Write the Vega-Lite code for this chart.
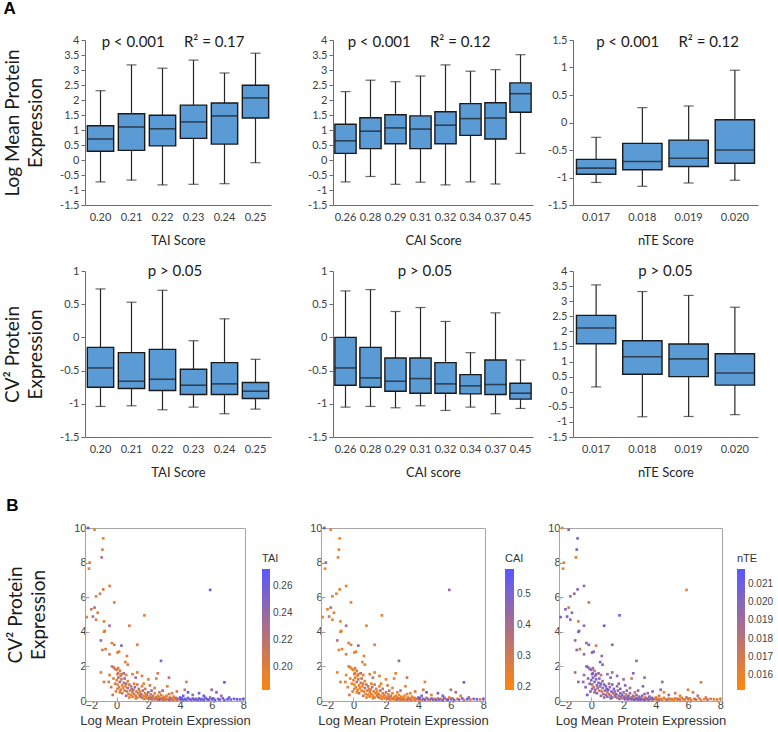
{
  "$schema": "https://vega.github.io/schema/vega-lite/v6.json",
  "background": "white",
  "padding": {"left": 3, "top": 0, "right": 1, "bottom": 2},
  "columns": 1,
  "align": "none",
  "spacing": 17,
  "resolve": {"scale": {"color": "independent"}, "legend": {"color": "independent"}},
  "config": {
    "font": "Lato",
    "view": {"stroke": null},
    "axis": {"grid": false, "labelFont": "Lato", "titleFont": "Lato", "labelColor": "#404040", "titleColor": "#262626", "domainColor": "#6b6b6b", "tickColor": "#6b6b6b", "labelFontSize": 11, "titleFontWeight": "normal", "labelOverlap": false},
    "title": {"font": "Lato", "fontWeight": "normal", "color": "#1a1a1a"}
  },
  "datasets": {
    "box": [
      {"p": "t1", "cat": "0.20", "lo": -0.73, "q1": 0.29, "med": 0.70, "q3": 1.14, "hi": 2.31},
      {"p": "t1", "cat": "0.21", "lo": -0.67, "q1": 0.32, "med": 1.10, "q3": 1.54, "hi": 3.17},
      {"p": "t1", "cat": "0.22", "lo": -0.83, "q1": 0.47, "med": 1.04, "q3": 1.49, "hi": 3.06},
      {"p": "t1", "cat": "0.23", "lo": -0.81, "q1": 0.72, "med": 1.27, "q3": 1.83, "hi": 3.33},
      {"p": "t1", "cat": "0.24", "lo": -0.79, "q1": 0.53, "med": 1.47, "q3": 1.90, "hi": 2.90},
      {"p": "t1", "cat": "0.25", "lo": -0.09, "q1": 1.40, "med": 2.07, "q3": 2.49, "hi": 3.56},
      {"p": "c1", "cat": "0.26", "lo": -0.73, "q1": 0.22, "med": 0.64, "q3": 1.19, "hi": 2.28},
      {"p": "c1", "cat": "0.28", "lo": -0.55, "q1": 0.38, "med": 0.96, "q3": 1.41, "hi": 2.66},
      {"p": "c1", "cat": "0.29", "lo": -0.81, "q1": 0.54, "med": 1.07, "q3": 1.51, "hi": 2.61},
      {"p": "c1", "cat": "0.31", "lo": -0.74, "q1": 0.38, "med": 1.03, "q3": 1.47, "hi": 2.80},
      {"p": "c1", "cat": "0.32", "lo": -0.83, "q1": 0.54, "med": 1.16, "q3": 1.61, "hi": 3.17},
      {"p": "c1", "cat": "0.34", "lo": -0.73, "q1": 0.82, "med": 1.38, "q3": 1.88, "hi": 2.96},
      {"p": "c1", "cat": "0.37", "lo": -0.80, "q1": 0.70, "med": 1.40, "q3": 1.91, "hi": 3.01},
      {"p": "c1", "cat": "0.45", "lo": 0.22, "q1": 1.59, "med": 2.21, "q3": 2.57, "hi": 3.51},
      {"p": "n1", "cat": "0.017", "lo": -1.09, "q1": -0.94, "med": -0.83, "q3": -0.67, "hi": -0.27},
      {"p": "n1", "cat": "0.018", "lo": -1.16, "q1": -0.86, "med": -0.71, "q3": -0.38, "hi": 0.27},
      {"p": "n1", "cat": "0.019", "lo": -1.10, "q1": -0.80, "med": -0.65, "q3": -0.32, "hi": 0.30},
      {"p": "n1", "cat": "0.020", "lo": -1.05, "q1": -0.74, "med": -0.50, "q3": 0.05, "hi": 0.95},
      {"p": "t2", "cat": "0.20", "lo": -1.04, "q1": -0.75, "med": -0.46, "q3": -0.15, "hi": 0.73},
      {"p": "t2", "cat": "0.21", "lo": -1.03, "q1": -0.77, "med": -0.66, "q3": -0.23, "hi": 0.53},
      {"p": "t2", "cat": "0.22", "lo": -1.09, "q1": -0.80, "med": -0.63, "q3": -0.18, "hi": 0.71},
      {"p": "t2", "cat": "0.23", "lo": -1.05, "q1": -0.86, "med": -0.72, "q3": -0.48, "hi": -0.05},
      {"p": "t2", "cat": "0.24", "lo": -1.15, "q1": -0.86, "med": -0.70, "q3": -0.38, "hi": 0.28},
      {"p": "t2", "cat": "0.25", "lo": -1.08, "q1": -0.92, "med": -0.81, "q3": -0.68, "hi": -0.33},
      {"p": "c2", "cat": "0.26", "lo": -1.05, "q1": -0.72, "med": -0.46, "q3": 0.0, "hi": 0.70},
      {"p": "c2", "cat": "0.28", "lo": -1.04, "q1": -0.75, "med": -0.61, "q3": -0.15, "hi": 0.72},
      {"p": "c2", "cat": "0.29", "lo": -1.06, "q1": -0.81, "med": -0.66, "q3": -0.31, "hi": 0.39},
      {"p": "c2", "cat": "0.31", "lo": -1.03, "q1": -0.84, "med": -0.62, "q3": -0.31, "hi": 0.45},
      {"p": "c2", "cat": "0.32", "lo": -1.10, "q1": -0.84, "med": -0.70, "q3": -0.38, "hi": 0.24},
      {"p": "c2", "cat": "0.34", "lo": -1.05, "q1": -0.85, "med": -0.73, "q3": -0.56, "hi": -0.23},
      {"p": "c2", "cat": "0.37", "lo": -1.15, "q1": -0.86, "med": -0.71, "q3": -0.34, "hi": 0.37},
      {"p": "c2", "cat": "0.45", "lo": -1.07, "q1": -0.93, "med": -0.84, "q3": -0.69, "hi": -0.34},
      {"p": "n2", "cat": "0.017", "lo": 0.16, "q1": 1.59, "med": 2.11, "q3": 2.53, "hi": 3.54},
      {"p": "n2", "cat": "0.018", "lo": -0.83, "q1": 0.58, "med": 1.16, "q3": 1.69, "hi": 3.32},
      {"p": "n2", "cat": "0.019", "lo": -0.82, "q1": 0.50, "med": 1.09, "q3": 1.58, "hi": 3.19},
      {"p": "n2", "cat": "0.020", "lo": -0.76, "q1": 0.22, "med": 0.62, "q3": 1.26, "hi": 2.80}
    ],
    "pts": [
      {"x": -1.8, "y": 10, "t": 0.27, "c": 0.56, "n": 0.0155},
      {"x": -1.4, "y": 9.9, "t": 0.195, "c": 0.22, "n": 0.0196},
      {"x": -0.85, "y": 9.4, "t": 0.19, "c": 0.21, "n": 0.0203},
      {"x": -0.9, "y": 8.75, "t": 0.2, "c": 0.23, "n": 0.0206},
      {"x": -0.95, "y": 8.3, "t": 0.225, "c": 0.25, "n": 0.0166},
      {"x": -1.7, "y": 8.0, "t": 0.2, "c": 0.42, "n": 0.0162},
      {"x": -1.75, "y": 7.65, "t": 0.195, "c": 0.21, "n": 0.016},
      {"x": -0.45, "y": 6.65, "t": 0.2, "c": 0.24, "n": 0.0195},
      {"x": -0.85, "y": 6.45, "t": 0.205, "c": 0.26, "n": 0.02},
      {"x": -1.05, "y": 6.2, "t": 0.21, "c": 0.25, "n": 0.0192},
      {"x": -1.3, "y": 6.05, "t": 0.2, "c": 0.24, "n": 0.0188},
      {"x": -0.15, "y": 5.7, "t": 0.2, "c": 0.23, "n": 0.0175},
      {"x": -1.4, "y": 5.4, "t": 0.235, "c": 0.4, "n": 0.0165},
      {"x": -1.2, "y": 5.1, "t": 0.2, "c": 0.22, "n": 0.0195},
      {"x": -1.5, "y": 4.88, "t": 0.23, "c": 0.3, "n": 0.0207},
      {"x": -1.3, "y": 4.7, "t": 0.205, "c": 0.24, "n": 0.0195},
      {"x": -0.45, "y": 4.35, "t": 0.235, "c": 0.42, "n": 0.0195},
      {"x": -0.8, "y": 4.6, "t": 0.2, "c": 0.23, "n": 0.0168},
      {"x": -0.75, "y": 4.05, "t": 0.195, "c": 0.22, "n": 0.0192},
      {"x": -0.8, "y": 4.0, "t": 0.2, "c": 0.25, "n": 0.02},
      {"x": -1.0, "y": 3.5, "t": 0.24, "c": 0.38, "n": 0.0195},
      {"x": -0.9, "y": 2.95, "t": 0.2, "c": 0.23, "n": 0.0198},
      {"x": -0.7, "y": 3.0, "t": 0.205, "c": 0.24, "n": 0.0175},
      {"x": -0.3, "y": 3.35, "t": 0.2, "c": 0.25, "n": 0.0195},
      {"x": -0.15, "y": 3.25, "t": 0.21, "c": 0.26, "n": 0.0205},
      {"x": 0.3, "y": 3.2, "t": 0.25, "c": 0.45, "n": 0.0166},
      {"x": 0.15, "y": 2.85, "t": 0.2, "c": 0.24, "n": 0.0195},
      {"x": 0.05, "y": 2.8, "t": 0.2, "c": 0.22, "n": 0.0198},
      {"x": -0.45, "y": 2.7, "t": 0.205, "c": 0.26, "n": 0.019},
      {"x": 0.65, "y": 2.6, "t": 0.2, "c": 0.24, "n": 0.0195},
      {"x": 0.8, "y": 4.35, "t": 0.2, "c": 0.23, "n": 0.0212},
      {"x": 1.75, "y": 4.95, "t": 0.2, "c": 0.25, "n": 0.0212},
      {"x": 1.3, "y": 3.25, "t": 0.2, "c": 0.26, "n": 0.0195},
      {"x": 2.8, "y": 2.32, "t": 0.25, "c": 0.45, "n": 0.0195},
      {"x": 5.9, "y": 6.42, "t": 0.265, "c": 0.44, "n": 0.016},
      {"x": 6.8, "y": 1.08, "t": 0.27, "c": 0.55, "n": 0.0162},
      {"x": -1.9, "y": 4.85, "t": 0.2, "c": 0.22, "n": 0.0207},
      {"x": -1.6, "y": 5.3, "t": 0.21, "c": 0.24, "n": 0.02},
      {"x": -1.0, "y": 1.65, "t": 0.2, "c": 0.23, "n": 0.019},
      {"x": -0.8, "y": 1.1, "t": 0.205, "c": 0.24, "n": 0.0195},
      {"x": -0.3, "y": 2.0, "t": 0.2, "c": 0.23, "n": 0.0195},
      {"x": -0.2, "y": 1.95, "t": 0.21, "c": 0.25, "n": 0.02},
      {"x": -0.1, "y": 1.85, "t": 0.225, "c": 0.24, "n": 0.019},
      {"x": 0.0, "y": 1.8, "t": 0.2, "c": 0.22, "n": 0.0198},
      {"x": 0.1, "y": 1.9, "t": 0.195, "c": 0.26, "n": 0.0192},
      {"x": 0.2, "y": 1.75, "t": 0.2, "c": 0.25, "n": 0.0172},
      {"x": 0.1, "y": 1.6, "t": 0.22, "c": 0.3, "n": 0.0195},
      {"x": 0.05, "y": 1.55, "t": 0.2, "c": 0.24, "n": 0.0205},
      {"x": 0.3, "y": 1.55, "t": 0.21, "c": 0.26, "n": 0.0198},
      {"x": 0.25, "y": 1.45, "t": 0.2, "c": 0.22, "n": 0.019},
      {"x": 0.45, "y": 1.6, "t": 0.23, "c": 0.35, "n": 0.0197},
      {"x": 0.6, "y": 1.5, "t": 0.2, "c": 0.27, "n": 0.0178},
      {"x": 0.7, "y": 2.1, "t": 0.205, "c": 0.24, "n": 0.0198},
      {"x": 0.55, "y": 2.25, "t": 0.2, "c": 0.23, "n": 0.0203},
      {"x": 1.0, "y": 1.55, "t": 0.2, "c": 0.25, "n": 0.0195},
      {"x": 1.2, "y": 1.35, "t": 0.235, "c": 0.36, "n": 0.0199},
      {"x": 1.3, "y": 1.65, "t": 0.2, "c": 0.24, "n": 0.0188},
      {"x": 1.6, "y": 1.45, "t": 0.205, "c": 0.26, "n": 0.0196},
      {"x": 2.0, "y": 1.25, "t": 0.2, "c": 0.24, "n": 0.0195},
      {"x": 2.5, "y": 1.3, "t": 0.2, "c": 0.23, "n": 0.0172},
      {"x": 2.6, "y": 1.6, "t": 0.21, "c": 0.25, "n": 0.02},
      {"x": 3.3, "y": 1.35, "t": 0.22, "c": 0.32, "n": 0.0195},
      {"x": 3.2, "y": 0.85, "t": 0.2, "c": 0.26, "n": 0.0199},
      {"x": 4.4, "y": 1.1, "t": 0.2, "c": 0.24, "n": 0.0195},
      {"x": 4.3, "y": 0.65, "t": 0.215, "c": 0.3, "n": 0.0197},
      {"x": 6.0, "y": 0.65, "t": 0.24, "c": 0.35, "n": 0.0165},
      {"x": 6.3, "y": 0.5, "t": 0.25, "c": 0.4, "n": 0.0168},
      {"x": 5.2, "y": 0.45, "t": 0.26, "c": 0.48, "n": 0.0175},
      {"x": -0.45, "y": 1.5, "t": 0.2, "c": 0.23, "n": 0.0196},
      {"x": -0.5, "y": 1.1, "t": 0.205, "c": 0.25, "n": 0.0199},
      {"x": -0.2, "y": 1.3, "t": 0.2, "c": 0.24, "n": 0.0195},
      {"x": -0.35, "y": 0.8, "t": 0.21, "c": 0.26, "n": 0.02},
      {"x": -0.1, "y": 1.0, "t": 0.2, "c": 0.22, "n": 0.0193},
      {"x": -0.05, "y": 0.55, "t": 0.2, "c": 0.25, "n": 0.0203},
      {"x": -0.25, "y": 0.35, "t": 0.22, "c": 0.3, "n": 0.0212},
      {"x": 0.0, "y": 1.2, "t": 0.2, "c": 0.24, "n": 0.0198},
      {"x": 0.05, "y": 0.95, "t": 0.195, "c": 0.22, "n": 0.0192},
      {"x": 0.1, "y": 1.35, "t": 0.225, "c": 0.28, "n": 0.0205},
      {"x": 0.15, "y": 0.8, "t": 0.205, "c": 0.25, "n": 0.017},
      {"x": 0.2, "y": 1.1, "t": 0.24, "c": 0.36, "n": 0.0195},
      {"x": 0.25, "y": 0.65, "t": 0.2, "c": 0.23, "n": 0.0188},
      {"x": 0.3, "y": 1.25, "t": 0.21, "c": 0.3, "n": 0.0202},
      {"x": 0.35, "y": 0.9, "t": 0.2, "c": 0.24, "n": 0.0198},
      {"x": 0.4, "y": 0.75, "t": 0.195, "c": 0.22, "n": 0.0192},
      {"x": 0.45, "y": 1.05, "t": 0.225, "c": 0.28, "n": 0.0205},
      {"x": 0.5, "y": 0.6, "t": 0.205, "c": 0.25, "n": 0.017},
      {"x": 0.5, "y": 1.3, "t": 0.24, "c": 0.36, "n": 0.0195},
      {"x": 0.2, "y": 0.5, "t": 0.2, "c": 0.23, "n": 0.0188},
      {"x": 0.35, "y": 0.45, "t": 0.21, "c": 0.3, "n": 0.0202},
      {"x": 0.05, "y": 0.7, "t": 0.2, "c": 0.24, "n": 0.0198},
      {"x": 0.55, "y": 0.85, "t": 0.195, "c": 0.22, "n": 0.0192},
      {"x": 0.6, "y": 1.0, "t": 0.225, "c": 0.28, "n": 0.0205},
      {"x": 0.65, "y": 0.55, "t": 0.205, "c": 0.25, "n": 0.017},
      {"x": 0.7, "y": 0.75, "t": 0.24, "c": 0.36, "n": 0.0195},
      {"x": 0.75, "y": 0.4, "t": 0.2, "c": 0.23, "n": 0.0188},
      {"x": 0.8, "y": 0.95, "t": 0.21, "c": 0.3, "n": 0.0202},
      {"x": 0.85, "y": 0.6, "t": 0.2, "c": 0.24, "n": 0.0198},
      {"x": 0.9, "y": 0.35, "t": 0.195, "c": 0.22, "n": 0.0192},
      {"x": 0.95, "y": 0.7, "t": 0.225, "c": 0.28, "n": 0.0205},
      {"x": 1.0, "y": 0.5, "t": 0.205, "c": 0.25, "n": 0.017},
      {"x": 0.6, "y": 0.3, "t": 0.24, "c": 0.36, "n": 0.0195},
      {"x": 0.7, "y": 1.15, "t": 0.2, "c": 0.23, "n": 0.0188},
      {"x": 0.9, "y": 0.85, "t": 0.21, "c": 0.3, "n": 0.0202},
      {"x": 1.0, "y": 0.25, "t": 0.2, "c": 0.24, "n": 0.0198},
      {"x": 0.8, "y": 0.2, "t": 0.195, "c": 0.22, "n": 0.0192},
      {"x": 1.05, "y": 0.65, "t": 0.225, "c": 0.28, "n": 0.0205},
      {"x": 1.1, "y": 0.4, "t": 0.205, "c": 0.25, "n": 0.017},
      {"x": 1.15, "y": 0.8, "t": 0.24, "c": 0.36, "n": 0.0195},
      {"x": 1.2, "y": 0.3, "t": 0.2, "c": 0.23, "n": 0.0188},
      {"x": 1.25, "y": 0.55, "t": 0.21, "c": 0.3, "n": 0.0202},
      {"x": 1.3, "y": 0.2, "t": 0.2, "c": 0.24, "n": 0.0198},
      {"x": 1.35, "y": 0.45, "t": 0.195, "c": 0.22, "n": 0.0192},
      {"x": 1.4, "y": 0.7, "t": 0.225, "c": 0.28, "n": 0.0205},
      {"x": 1.45, "y": 0.35, "t": 0.205, "c": 0.25, "n": 0.017},
      {"x": 1.5, "y": 0.25, "t": 0.24, "c": 0.36, "n": 0.0195},
      {"x": 1.1, "y": 1.0, "t": 0.2, "c": 0.23, "n": 0.0188},
      {"x": 1.3, "y": 0.95, "t": 0.21, "c": 0.3, "n": 0.0202},
      {"x": 1.2, "y": 0.15, "t": 0.2, "c": 0.24, "n": 0.0198},
      {"x": 1.45, "y": 0.55, "t": 0.195, "c": 0.22, "n": 0.0192},
      {"x": 1.55, "y": 0.4, "t": 0.225, "c": 0.28, "n": 0.0205},
      {"x": 1.6, "y": 0.18, "t": 0.205, "c": 0.25, "n": 0.017},
      {"x": 1.65, "y": 0.6, "t": 0.24, "c": 0.36, "n": 0.0195},
      {"x": 1.7, "y": 0.3, "t": 0.2, "c": 0.23, "n": 0.0188},
      {"x": 1.75, "y": 0.12, "t": 0.21, "c": 0.3, "n": 0.0202},
      {"x": 1.8, "y": 0.45, "t": 0.2, "c": 0.24, "n": 0.0198},
      {"x": 1.85, "y": 0.22, "t": 0.195, "c": 0.22, "n": 0.0192},
      {"x": 1.9, "y": 0.35, "t": 0.225, "c": 0.28, "n": 0.0205},
      {"x": 1.95, "y": 0.15, "t": 0.205, "c": 0.25, "n": 0.017},
      {"x": 2.0, "y": 0.5, "t": 0.24, "c": 0.36, "n": 0.0195},
      {"x": 1.6, "y": 0.85, "t": 0.2, "c": 0.23, "n": 0.0188},
      {"x": 1.8, "y": 0.7, "t": 0.21, "c": 0.3, "n": 0.0202},
      {"x": 1.7, "y": 1.0, "t": 0.2, "c": 0.24, "n": 0.0198},
      {"x": 2.05, "y": 0.25, "t": 0.195, "c": 0.22, "n": 0.0192},
      {"x": 2.1, "y": 0.12, "t": 0.225, "c": 0.28, "n": 0.0205},
      {"x": 2.15, "y": 0.38, "t": 0.205, "c": 0.25, "n": 0.017},
      {"x": 2.2, "y": 0.2, "t": 0.24, "c": 0.36, "n": 0.0195},
      {"x": 2.25, "y": 0.08, "t": 0.2, "c": 0.23, "n": 0.0188},
      {"x": 2.3, "y": 0.3, "t": 0.21, "c": 0.3, "n": 0.0202},
      {"x": 2.35, "y": 0.15, "t": 0.2, "c": 0.24, "n": 0.0198},
      {"x": 2.4, "y": 0.45, "t": 0.195, "c": 0.22, "n": 0.0192},
      {"x": 2.45, "y": 0.1, "t": 0.225, "c": 0.28, "n": 0.0205},
      {"x": 2.5, "y": 0.22, "t": 0.205, "c": 0.25, "n": 0.017},
      {"x": 2.2, "y": 0.6, "t": 0.24, "c": 0.36, "n": 0.0195},
      {"x": 2.4, "y": 0.75, "t": 0.2, "c": 0.23, "n": 0.0188},
      {"x": 2.1, "y": 0.9, "t": 0.21, "c": 0.3, "n": 0.0202},
      {"x": 2.55, "y": 0.12, "t": 0.2, "c": 0.24, "n": 0.0198},
      {"x": 2.6, "y": 0.3, "t": 0.195, "c": 0.22, "n": 0.0192},
      {"x": 2.65, "y": 0.07, "t": 0.225, "c": 0.28, "n": 0.0205},
      {"x": 2.7, "y": 0.2, "t": 0.205, "c": 0.25, "n": 0.017},
      {"x": 2.75, "y": 0.1, "t": 0.24, "c": 0.36, "n": 0.0195},
      {"x": 2.8, "y": 0.35, "t": 0.2, "c": 0.23, "n": 0.0188},
      {"x": 2.85, "y": 0.15, "t": 0.21, "c": 0.3, "n": 0.0202},
      {"x": 2.9, "y": 0.06, "t": 0.2, "c": 0.24, "n": 0.0198},
      {"x": 2.95, "y": 0.25, "t": 0.195, "c": 0.22, "n": 0.0192},
      {"x": 3.0, "y": 0.1, "t": 0.225, "c": 0.28, "n": 0.0205},
      {"x": 2.7, "y": 0.5, "t": 0.205, "c": 0.25, "n": 0.017},
      {"x": 2.9, "y": 0.6, "t": 0.24, "c": 0.36, "n": 0.0195},
      {"x": 3.05, "y": 0.18, "t": 0.2, "c": 0.23, "n": 0.0188},
      {"x": 3.1, "y": 0.08, "t": 0.21, "c": 0.3, "n": 0.0202},
      {"x": 3.15, "y": 0.3, "t": 0.2, "c": 0.24, "n": 0.0198},
      {"x": 3.2, "y": 0.12, "t": 0.195, "c": 0.22, "n": 0.0192},
      {"x": 3.3, "y": 0.05, "t": 0.225, "c": 0.28, "n": 0.0205},
      {"x": 3.35, "y": 0.2, "t": 0.205, "c": 0.25, "n": 0.017},
      {"x": 3.4, "y": 0.1, "t": 0.24, "c": 0.36, "n": 0.0195},
      {"x": 3.5, "y": 0.15, "t": 0.2, "c": 0.23, "n": 0.0188},
      {"x": 3.55, "y": 0.06, "t": 0.21, "c": 0.3, "n": 0.0202},
      {"x": 3.6, "y": 0.25, "t": 0.2, "c": 0.24, "n": 0.0198},
      {"x": 3.7, "y": 0.1, "t": 0.195, "c": 0.22, "n": 0.0192},
      {"x": 3.75, "y": 0.18, "t": 0.225, "c": 0.28, "n": 0.0205},
      {"x": 3.8, "y": 0.05, "t": 0.205, "c": 0.25, "n": 0.017},
      {"x": 3.9, "y": 0.12, "t": 0.24, "c": 0.36, "n": 0.0195},
      {"x": 3.5, "y": 0.45, "t": 0.2, "c": 0.23, "n": 0.0188},
      {"x": 3.8, "y": 0.55, "t": 0.21, "c": 0.3, "n": 0.0202},
      {"x": 3.3, "y": 0.4, "t": 0.2, "c": 0.24, "n": 0.0198},
      {"x": 4.0, "y": 0.2, "t": 0.265, "c": 0.52, "n": 0.016},
      {"x": 4.05, "y": 0.08, "t": 0.25, "c": 0.3, "n": 0.0165},
      {"x": 4.1, "y": 0.15, "t": 0.27, "c": 0.55, "n": 0.0158},
      {"x": 4.2, "y": 0.05, "t": 0.24, "c": 0.25, "n": 0.0185},
      {"x": 4.3, "y": 0.12, "t": 0.26, "c": 0.48, "n": 0.017},
      {"x": 4.4, "y": 0.07, "t": 0.265, "c": 0.52, "n": 0.016},
      {"x": 4.5, "y": 0.18, "t": 0.25, "c": 0.3, "n": 0.0165},
      {"x": 4.6, "y": 0.1, "t": 0.27, "c": 0.55, "n": 0.0158},
      {"x": 4.7, "y": 0.05, "t": 0.24, "c": 0.25, "n": 0.0185},
      {"x": 4.8, "y": 0.14, "t": 0.26, "c": 0.48, "n": 0.017},
      {"x": 4.9, "y": 0.08, "t": 0.265, "c": 0.52, "n": 0.016},
      {"x": 5.0, "y": 0.12, "t": 0.25, "c": 0.3, "n": 0.0165},
      {"x": 4.5, "y": 0.5, "t": 0.27, "c": 0.55, "n": 0.0158},
      {"x": 4.8, "y": 0.35, "t": 0.24, "c": 0.25, "n": 0.0185},
      {"x": 4.2, "y": 0.3, "t": 0.26, "c": 0.48, "n": 0.017},
      {"x": 5.1, "y": 0.06, "t": 0.265, "c": 0.52, "n": 0.016},
      {"x": 5.2, "y": 0.15, "t": 0.25, "c": 0.3, "n": 0.0165},
      {"x": 5.3, "y": 0.08, "t": 0.27, "c": 0.55, "n": 0.0158},
      {"x": 5.4, "y": 0.12, "t": 0.24, "c": 0.25, "n": 0.0185},
      {"x": 5.5, "y": 0.05, "t": 0.26, "c": 0.48, "n": 0.017},
      {"x": 5.6, "y": 0.18, "t": 0.265, "c": 0.52, "n": 0.016},
      {"x": 5.7, "y": 0.1, "t": 0.25, "c": 0.3, "n": 0.0165},
      {"x": 5.8, "y": 0.07, "t": 0.27, "c": 0.55, "n": 0.0158},
      {"x": 5.9, "y": 0.2, "t": 0.24, "c": 0.25, "n": 0.0185},
      {"x": 6.0, "y": 0.1, "t": 0.26, "c": 0.48, "n": 0.017},
      {"x": 5.5, "y": 0.3, "t": 0.265, "c": 0.52, "n": 0.016},
      {"x": 6.1, "y": 0.15, "t": 0.25, "c": 0.3, "n": 0.0165},
      {"x": 6.2, "y": 0.06, "t": 0.27, "c": 0.55, "n": 0.0158},
      {"x": 6.4, "y": 0.12, "t": 0.24, "c": 0.25, "n": 0.0185},
      {"x": 6.5, "y": 0.08, "t": 0.26, "c": 0.48, "n": 0.017},
      {"x": 6.7, "y": 0.15, "t": 0.265, "c": 0.52, "n": 0.016},
      {"x": 6.8, "y": 0.05, "t": 0.25, "c": 0.3, "n": 0.0165},
      {"x": 7.0, "y": 0.1, "t": 0.27, "c": 0.55, "n": 0.0158},
      {"x": 7.2, "y": 0.08, "t": 0.24, "c": 0.25, "n": 0.0185},
      {"x": 7.4, "y": 0.12, "t": 0.26, "c": 0.48, "n": 0.017},
      {"x": 7.6, "y": 0.1, "t": 0.265, "c": 0.52, "n": 0.016},
      {"x": 7.8, "y": 0.09, "t": 0.25, "c": 0.3, "n": 0.0165},
      {"x": 8.0, "y": 0.12, "t": 0.27, "c": 0.55, "n": 0.0158},
      {"x": 6.6, "y": 0.3, "t": 0.24, "c": 0.25, "n": 0.0185},
      {"x": 7.1, "y": 0.2, "t": 0.26, "c": 0.48, "n": 0.017}
    ]
  },
  "concat": [
    {
      "title": {"text": "A", "anchor": "start", "font": "Liberation Sans", "fontWeight": "bold", "fontSize": 17, "offset": 16, "color": "#000"},
      "spacing": 36,
      "hconcat": [
        {
          "width": 186, "height": 165,
          "data": {"name": "box"},
          "transform": [{"filter": "datum.p == 't1'"}],
          "title": {"text": "p < 0.001\u00a0\u00a0\u00a0\u00a0\u00a0R² = 0.17", "fontSize": 15, "offset": -16, "dx": -5},
          "encoding": {"x": {"field": "cat", "type": "ordinal", "scale": {"paddingInner": 0.15, "paddingOuter": 0.075}, "axis": {"title": "TAI Score", "labelAngle": 0, "ticks": false, "labelPadding": 6, "titlePadding": 12, "titleFontSize": 13}}},
          "layer": [
            {"mark": {"type": "rule", "color": "#262626", "strokeWidth": 1.2}, "encoding": {"y": {"field": "lo", "type": "quantitative", "title": ["Log Mean Protein", "Expression"], "scale": {"domain": [-1.5, 4], "nice": false}, "axis": {"values": [-1.5, -1, -0.5, 0, 0.5, 1, 1.5, 2, 2.5, 3, 3.5, 4], "tickCount": 30, "labelOverlap": false, "labelExpr": "'' + datum.value", "tickSize": 4, "labelPadding": 2, "titleFontSize": 19, "titleLineHeight": 23, "titlePadding": 14, "titleColor": "#1a1a1a"}}, "y2": {"field": "hi"}}},
            {"mark": {"type": "tick", "color": "#262626", "size": 10, "thickness": 1.2}, "encoding": {"y": {"field": "lo", "type": "quantitative", "title": ["Log Mean Protein", "Expression"]}}},
            {"mark": {"type": "tick", "color": "#262626", "size": 10, "thickness": 1.2}, "encoding": {"y": {"field": "hi", "type": "quantitative", "title": ["Log Mean Protein", "Expression"]}}},
            {"mark": {"type": "bar", "fill": "#5b9bd5", "stroke": "#1a1a1a", "strokeWidth": 1.4}, "encoding": {"y": {"field": "q1", "type": "quantitative", "title": ["Log Mean Protein", "Expression"]}, "y2": {"field": "q3"}}},
            {"mark": {"type": "tick", "color": "#1a1a1a", "size": 26, "thickness": 1.6}, "encoding": {"y": {"field": "med", "type": "quantitative", "title": ["Log Mean Protein", "Expression"]}}}
          ]
        },
        {
          "spacing": 14,
          "hconcat": [
            {
              "width": 200, "height": 165,
              "data": {"name": "box"},
              "transform": [{"filter": "datum.p == 'c1'"}],
              "title": {"text": "p < 0.001\u00a0\u00a0\u00a0\u00a0\u00a0R² = 0.12", "fontSize": 15, "offset": -16, "dx": -14},
              "encoding": {"x": {"field": "cat", "type": "ordinal", "scale": {"paddingInner": 0.15, "paddingOuter": 0.075}, "axis": {"title": "CAI Score", "labelAngle": 0, "ticks": false, "labelPadding": 6, "titlePadding": 12, "titleFontSize": 13}}},
              "layer": [
                {"mark": {"type": "rule", "color": "#262626", "strokeWidth": 1.2}, "encoding": {"y": {"field": "lo", "type": "quantitative", "title": null, "scale": {"domain": [-1.5, 4], "nice": false}, "axis": {"values": [-1.5, -1, -0.5, 0, 0.5, 1, 1.5, 2, 2.5, 3, 3.5, 4], "tickCount": 30, "labelOverlap": false, "labelExpr": "'' + datum.value", "tickSize": 4, "labelPadding": 2}}, "y2": {"field": "hi"}}},
                {"mark": {"type": "tick", "color": "#262626", "size": 10, "thickness": 1.2}, "encoding": {"y": {"field": "lo", "type": "quantitative", "title": null}}},
                {"mark": {"type": "tick", "color": "#262626", "size": 10, "thickness": 1.2}, "encoding": {"y": {"field": "hi", "type": "quantitative", "title": null}}},
                {"mark": {"type": "bar", "fill": "#5b9bd5", "stroke": "#1a1a1a", "strokeWidth": 1.4}, "encoding": {"y": {"field": "q1", "type": "quantitative", "title": null}, "y2": {"field": "q3"}}},
                {"mark": {"type": "tick", "color": "#1a1a1a", "size": 21, "thickness": 1.6}, "encoding": {"y": {"field": "med", "type": "quantitative", "title": null}}}
              ]
            },
            {
              "width": 185, "height": 165,
              "data": {"name": "box"},
              "transform": [{"filter": "datum.p == 'n1'"}],
              "title": {"text": "p < 0.001\u00a0\u00a0\u00a0\u00a0\u00a0R² = 0.12", "fontSize": 15, "offset": -16, "dx": 2},
              "encoding": {"x": {"field": "cat", "type": "ordinal", "scale": {"paddingInner": 0.15, "paddingOuter": 0.075}, "axis": {"title": "nTE Score", "labelAngle": 0, "ticks": false, "labelPadding": 6, "titlePadding": 12, "titleFontSize": 13}}},
              "layer": [
                {"mark": {"type": "rule", "color": "#262626", "strokeWidth": 1.2}, "encoding": {"y": {"field": "lo", "type": "quantitative", "title": null, "scale": {"domain": [-1.5, 1.5], "nice": false}, "axis": {"values": [-1.5, -1, -0.5, 0, 0.5, 1, 1.5], "tickCount": 30, "labelOverlap": false, "labelExpr": "'' + datum.value", "tickSize": 4, "labelPadding": 2}}, "y2": {"field": "hi"}}},
                {"mark": {"type": "tick", "color": "#262626", "size": 10, "thickness": 1.2}, "encoding": {"y": {"field": "lo", "type": "quantitative", "title": null}}},
                {"mark": {"type": "tick", "color": "#262626", "size": 10, "thickness": 1.2}, "encoding": {"y": {"field": "hi", "type": "quantitative", "title": null}}},
                {"mark": {"type": "bar", "fill": "#5b9bd5", "stroke": "#1a1a1a", "strokeWidth": 1.4}, "encoding": {"y": {"field": "q1", "type": "quantitative", "title": null}, "y2": {"field": "q3"}}},
                {"mark": {"type": "tick", "color": "#1a1a1a", "size": 39, "thickness": 1.6}, "encoding": {"y": {"field": "med", "type": "quantitative", "title": null}}}
              ]
            }
          ]
        }
      ]
    },
    {
      "spacing": 36,
      "hconcat": [
        {
          "width": 186, "height": 166,
          "data": {"name": "box"},
          "transform": [{"filter": "datum.p == 't2'"}],
          "title": {"text": "p > 0.05", "fontSize": 15, "offset": -14, "dx": -3},
          "encoding": {"x": {"field": "cat", "type": "ordinal", "scale": {"paddingInner": 0.15, "paddingOuter": 0.075}, "axis": {"title": "TAI Score", "labelAngle": 0, "ticks": false, "labelPadding": 6, "titlePadding": 12, "titleFontSize": 13}}},
          "layer": [
            {"mark": {"type": "rule", "color": "#262626", "strokeWidth": 1.2}, "encoding": {"y": {"field": "lo", "type": "quantitative", "title": ["CV² Protein", "Expression"], "scale": {"domain": [-1.5, 1], "nice": false}, "axis": {"values": [-1.5, -1, -0.5, 0, 0.5, 1], "tickCount": 30, "labelOverlap": false, "labelExpr": "'' + datum.value", "tickSize": 4, "labelPadding": 2, "titleFontSize": 19, "titleLineHeight": 23, "titlePadding": 14, "titleColor": "#1a1a1a"}}, "y2": {"field": "hi"}}},
            {"mark": {"type": "tick", "color": "#262626", "size": 10, "thickness": 1.2}, "encoding": {"y": {"field": "lo", "type": "quantitative", "title": ["CV² Protein", "Expression"]}}},
            {"mark": {"type": "tick", "color": "#262626", "size": 10, "thickness": 1.2}, "encoding": {"y": {"field": "hi", "type": "quantitative", "title": ["CV² Protein", "Expression"]}}},
            {"mark": {"type": "bar", "fill": "#5b9bd5", "stroke": "#1a1a1a", "strokeWidth": 1.4}, "encoding": {"y": {"field": "q1", "type": "quantitative", "title": ["CV² Protein", "Expression"]}, "y2": {"field": "q3"}}},
            {"mark": {"type": "tick", "color": "#1a1a1a", "size": 26, "thickness": 1.6}, "encoding": {"y": {"field": "med", "type": "quantitative", "title": ["CV² Protein", "Expression"]}}}
          ]
        },
        {
          "spacing": 14,
          "hconcat": [
            {
              "width": 200, "height": 166,
              "data": {"name": "box"},
              "transform": [{"filter": "datum.p == 'c2'"}],
              "title": {"text": "p > 0.05", "fontSize": 15, "offset": -14, "dx": -8},
              "encoding": {"x": {"field": "cat", "type": "ordinal", "scale": {"paddingInner": 0.15, "paddingOuter": 0.075}, "axis": {"title": "CAI score", "labelAngle": 0, "ticks": false, "labelPadding": 6, "titlePadding": 12, "titleFontSize": 13}}},
              "layer": [
                {"mark": {"type": "rule", "color": "#262626", "strokeWidth": 1.2}, "encoding": {"y": {"field": "lo", "type": "quantitative", "title": null, "scale": {"domain": [-1.5, 1], "nice": false}, "axis": {"values": [-1.5, -1, -0.5, 0, 0.5, 1], "tickCount": 30, "labelOverlap": false, "labelExpr": "'' + datum.value", "tickSize": 4, "labelPadding": 2}}, "y2": {"field": "hi"}}},
                {"mark": {"type": "tick", "color": "#262626", "size": 10, "thickness": 1.2}, "encoding": {"y": {"field": "lo", "type": "quantitative", "title": null}}},
                {"mark": {"type": "tick", "color": "#262626", "size": 10, "thickness": 1.2}, "encoding": {"y": {"field": "hi", "type": "quantitative", "title": null}}},
                {"mark": {"type": "bar", "fill": "#5b9bd5", "stroke": "#1a1a1a", "strokeWidth": 1.4}, "encoding": {"y": {"field": "q1", "type": "quantitative", "title": null}, "y2": {"field": "q3"}}},
                {"mark": {"type": "tick", "color": "#1a1a1a", "size": 21, "thickness": 1.6}, "encoding": {"y": {"field": "med", "type": "quantitative", "title": null}}}
              ]
            },
            {
              "width": 185, "height": 166,
              "data": {"name": "box"},
              "transform": [{"filter": "datum.p == 'n2'"}],
              "title": {"text": "p > 0.05", "fontSize": 15, "offset": -14, "dx": 0},
              "encoding": {"x": {"field": "cat", "type": "ordinal", "scale": {"paddingInner": 0.15, "paddingOuter": 0.075}, "axis": {"title": "nTE Score", "labelAngle": 0, "ticks": false, "labelPadding": 6, "titlePadding": 12, "titleFontSize": 13}}},
              "layer": [
                {"mark": {"type": "rule", "color": "#262626", "strokeWidth": 1.2}, "encoding": {"y": {"field": "lo", "type": "quantitative", "title": null, "scale": {"domain": [-1.5, 4], "nice": false}, "axis": {"values": [-1.5, -1, -0.5, 0, 0.5, 1, 1.5, 2, 2.5, 3, 3.5, 4], "tickCount": 30, "labelOverlap": false, "labelExpr": "'' + datum.value", "tickSize": 4, "labelPadding": 2}}, "y2": {"field": "hi"}}},
                {"mark": {"type": "tick", "color": "#262626", "size": 10, "thickness": 1.2}, "encoding": {"y": {"field": "lo", "type": "quantitative", "title": null}}},
                {"mark": {"type": "tick", "color": "#262626", "size": 10, "thickness": 1.2}, "encoding": {"y": {"field": "hi", "type": "quantitative", "title": null}}},
                {"mark": {"type": "bar", "fill": "#5b9bd5", "stroke": "#1a1a1a", "strokeWidth": 1.4}, "encoding": {"y": {"field": "q1", "type": "quantitative", "title": null}, "y2": {"field": "q3"}}},
                {"mark": {"type": "tick", "color": "#1a1a1a", "size": 39, "thickness": 1.6}, "encoding": {"y": {"field": "med", "type": "quantitative", "title": null}}}
              ]
            }
          ]
        }
      ]
    },
    {
      "title": {"text": "B", "anchor": "start", "font": "Liberation Sans", "fontWeight": "bold", "fontSize": 17, "offset": 7, "color": "#000"},
      "spacing": 15,
      "resolve": {"scale": {"color": "independent"}, "legend": {"color": "independent"}},
      "hconcat": [
        {
          "width": 160, "height": 173,
          "view": {"stroke": "#a6a6a6"},
          "data": {"name": "pts"},
          "mark": {"type": "square", "size": 7, "opacity": 0.95},
          "encoding": {
            "x": {"field": "x", "type": "quantitative", "scale": {"domain": [-2, 8.1], "nice": false}, "axis": {"title": "Log Mean Protein Expression", "values": [-2, 0, 2, 4, 6, 8], "tickSize": -4, "labelPadding": 2, "titlePadding": 4, "titleFontSize": 13, "titleFont": "Liberation Sans", "labelFont": "Liberation Sans", "labelColor": "#444", "titleColor": "#333", "domainColor": "#a6a6a6", "tickColor": "#a6a6a6"}},
            "y": {"field": "y", "type": "quantitative", "scale": {"domain": [0, 10], "nice": false}, "axis": {"title": ["CV² Protein", "Expression"], "values": [0, 2, 4, 6, 8, 10], "tickSize": -4, "labelPadding": 3, "labelFont": "Liberation Sans", "labelColor": "#444", "domainColor": "#a6a6a6", "tickColor": "#a6a6a6", "titleFontSize": 19, "titleLineHeight": 23, "titlePadding": 25, "titleColor": "#1a1a1a"}},
            "color": {"field": "t", "type": "quantitative", "scale": {"domain": [0.183, 0.273], "range": ["#ff8000", "#5050ff"], "interpolate": "rgb"}, "legend": {"title": "TAI", "orient": "none", "legendX": 177, "legendY": 25, "direction": "vertical", "gradientLength": 121, "gradientThickness": 8, "labelOffset": 3, "values": [0.2, 0.22, 0.24, 0.26], "format": ".2f", "labelFont": "Liberation Sans", "labelFontSize": 10, "labelColor": "#444", "titleFont": "Liberation Sans", "titleFontSize": 11, "titleFontWeight": "normal", "titleColor": "#333", "gradientStrokeWidth": 0}}
          }
        },
        {
          "spacing": 15,
          "resolve": {"scale": {"color": "independent"}, "legend": {"color": "independent"}},
          "hconcat": [
            {
              "width": 164, "height": 173,
              "view": {"stroke": "#a6a6a6"},
              "data": {"name": "pts"},
              "mark": {"type": "square", "size": 7, "opacity": 0.95},
              "encoding": {
                "x": {"field": "x", "type": "quantitative", "scale": {"domain": [-2, 8.1], "nice": false}, "axis": {"title": "Log Mean Protein Expression", "values": [-2, 0, 2, 4, 6, 8], "tickSize": -4, "labelPadding": 2, "titlePadding": 4, "titleFontSize": 13, "titleFont": "Liberation Sans", "labelFont": "Liberation Sans", "labelColor": "#444", "titleColor": "#333", "domainColor": "#a6a6a6", "tickColor": "#a6a6a6"}},
                "y": {"field": "y", "type": "quantitative", "scale": {"domain": [0, 10], "nice": false}, "axis": {"title": null, "values": [0, 2, 4, 6, 8, 10], "tickSize": -4, "labelPadding": 3, "labelFont": "Liberation Sans", "labelColor": "#444", "domainColor": "#a6a6a6", "tickColor": "#a6a6a6"}},
                "color": {"field": "c", "type": "quantitative", "scale": {"domain": [0.19, 0.58], "range": ["#ff8000", "#5050ff"], "interpolate": "rgb"}, "legend": {"title": "CAI", "orient": "none", "legendX": 184, "legendY": 25, "direction": "vertical", "gradientLength": 121, "gradientThickness": 9, "labelOffset": 3, "values": [0.2, 0.3, 0.4, 0.5], "format": ".1f", "labelFont": "Liberation Sans", "labelFontSize": 10, "labelColor": "#444", "titleFont": "Liberation Sans", "titleFontSize": 11, "titleFontWeight": "normal", "titleColor": "#333", "gradientStrokeWidth": 0}}
              }
            },
            {
              "width": 163, "height": 173,
              "view": {"stroke": "#a6a6a6"},
              "data": {"name": "pts"},
              "mark": {"type": "square", "size": 7, "opacity": 0.95},
              "encoding": {
                "x": {"field": "x", "type": "quantitative", "scale": {"domain": [-2, 8.1], "nice": false}, "axis": {"title": "Log Mean Protein Expression", "values": [-2, 0, 2, 4, 6, 8], "tickSize": -4, "labelPadding": 2, "titlePadding": 4, "titleFontSize": 13, "titleFont": "Liberation Sans", "labelFont": "Liberation Sans", "labelColor": "#444", "titleColor": "#333", "domainColor": "#a6a6a6", "tickColor": "#a6a6a6"}},
                "y": {"field": "y", "type": "quantitative", "scale": {"domain": [0, 10], "nice": false}, "axis": {"title": null, "values": [0, 2, 4, 6, 8, 10], "tickSize": -4, "labelPadding": 3, "labelFont": "Liberation Sans", "labelColor": "#444", "domainColor": "#a6a6a6", "tickColor": "#a6a6a6"}},
                "color": {"field": "n", "type": "quantitative", "scale": {"domain": [0.0152, 0.0218], "range": ["#ff8000", "#5050ff"], "interpolate": "rgb"}, "legend": {"title": "nTE", "orient": "none", "legendX": 178, "legendY": 25, "direction": "vertical", "gradientLength": 121, "gradientThickness": 8, "labelOffset": 3, "values": [0.016, 0.017, 0.018, 0.019, 0.02, 0.021], "format": ".3f", "labelFont": "Liberation Sans", "labelFontSize": 10, "labelColor": "#444", "titleFont": "Liberation Sans", "titleFontSize": 11, "titleFontWeight": "normal", "titleColor": "#333", "gradientStrokeWidth": 0}}
              }
            }
          ]
        }
      ]
    }
  ]
}
